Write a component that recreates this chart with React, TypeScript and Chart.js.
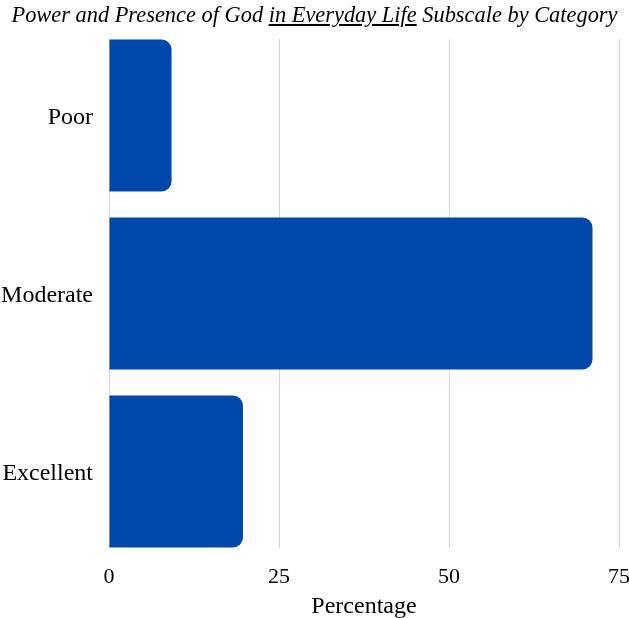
import React, { useEffect, useRef } from "react";
import { Chart, registerables } from "chart.js";

Chart.register(...registerables);

const categories = ["Poor", "Moderate", "Excellent"];
const percentages = [9.2, 71.1, 19.7];
const xTicks = [0, 25, 50, 75];
const titleBefore = "Power and Presence of God ";
const titleUnderlined = "in Everyday Life";
const titleAfter = " Subscale by Category";
const xAxisTitle = "Percentage";

const FONT = "'Liberation Serif', 'Times New Roman', serif";

export default function App() {
  const ref = useRef<HTMLCanvasElement | null>(null);

  useEffect(() => {
    document.body.style.margin = "0";
    if (!ref.current) return;
    const chart = new Chart(ref.current, {
      type: "bar",
      data: {
        datasets: [
          {
            data: percentages.map((v, i) => ({ x: v, y: i })),
            backgroundColor: "#0048AA",
            borderRadius: 10,
            borderSkipped: "start",
            barPercentage: 0.853,
            categoryPercentage: 1,
          },
        ],
      },
      options: {
        indexAxis: "y",
        animation: false,
        responsive: false,
        maintainAspectRatio: false,
        layout: { padding: { top: 39, right: 10, left: 0, bottom: 0 } },
        plugins: {
          legend: { display: false },
          tooltip: { enabled: false },
          title: { display: false },
        },
        scales: {
          x: {
            type: "linear",
            min: xTicks[0],
            max: xTicks[xTicks.length - 1],
            afterBuildTicks: (s: any) => {
              s.ticks = xTicks.map((v) => ({ value: v }));
            },
            afterFit: (s: any) => {
              s.height = 70;
              s.paddingRight = 0;
              s.paddingLeft = 0;
            },
            grid: { color: "#d4d4d4", drawTicks: false, lineWidth: 1 },
            border: { display: false },
            ticks: {
              color: "#000",
              font: { family: FONT, size: 22 },
              padding: 16,
              maxRotation: 0,
            },
            title: {
              display: true,
              text: xAxisTitle,
              color: "#000",
              font: { family: FONT, size: 24 },
              padding: { top: 0, bottom: -3 },
            },
          },
          y: {
            type: "linear",
            reverse: true,
            offset: false,
            min: -0.43,
            max: 2.43,
            afterBuildTicks: (s: any) => {
              s.ticks = categories.map((_, i) => ({ value: i }));
            },
            afterFit: (s: any) => {
              s.width = 109;
            },
            grid: { display: false, drawTicks: false },
            border: { display: false },
            ticks: {
              color: "#000",
              font: { family: FONT, size: 24 },
              padding: 16,
              labelOffset: 2,
              callback: (v: any) => categories[v as number] ?? "",
            },
          },
        },
      },
    });
    return () => chart.destroy();
  }, []);

  return (
    <div style={{ position: "absolute", left: 0, top: 0, width: 629, height: 618 }}>
      <div
        style={{
          position: "absolute",
          left: 0,
          top: 2,
          width: 629,
          textAlign: "center",
          fontFamily: FONT,
          fontStyle: "italic",
          fontSize: 22.4,
          lineHeight: "26px",
          color: "#000",
          whiteSpace: "nowrap",
        }}
      >
        {titleBefore}
        <u>{titleUnderlined}</u>
        {titleAfter}
      </div>
      <canvas ref={ref} width={629} height={618} style={{ display: "block" }} />
    </div>
  );
}
